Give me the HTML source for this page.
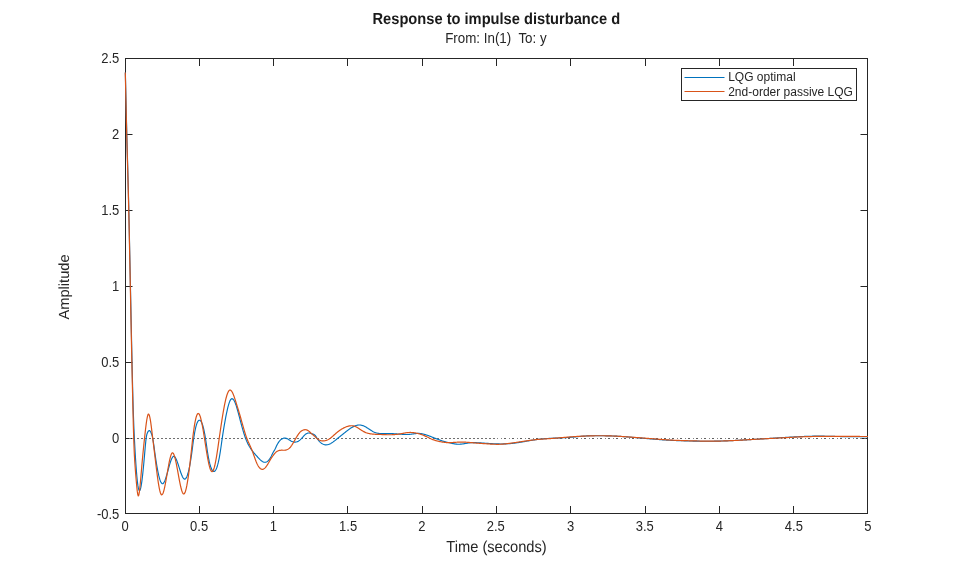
<!DOCTYPE html>
<html lang="en">
<head>
<meta charset="utf-8">
<title>Response to impulse disturbance d</title>
<style>
html,body{margin:0;padding:0;background:#fff;}
body{width:959px;height:577px;overflow:hidden;}
svg{display:block;}
text{font-family:"Liberation Sans",Arial,Helvetica,sans-serif;fill:#262626;}
.tk{font-size:13px;}
.lb{font-size:14.67px;text-rendering:geometricPrecision;}
.lg{font-size:12px;}
.tt{font-size:14.67px;font-weight:bold;fill:#1a1a1a;text-rendering:geometricPrecision;}
.st{font-size:13.36px;}
</style>
</head>
<body>
<svg width="959" height="577" viewBox="0 0 959 577">
<rect x="0" y="0" width="959" height="577" fill="#ffffff"/>
<g stroke="#262626" stroke-width="1" fill="none">
<rect x="125.5" y="58.5" width="742.0" height="455.0"/>
<line x1="199.5" y1="513.5" x2="199.5" y2="506.0"/><line x1="199.5" y1="58.5" x2="199.5" y2="66.0"/>
<line x1="273.5" y1="513.5" x2="273.5" y2="506.0"/><line x1="273.5" y1="58.5" x2="273.5" y2="66.0"/>
<line x1="347.5" y1="513.5" x2="347.5" y2="506.0"/><line x1="347.5" y1="58.5" x2="347.5" y2="66.0"/>
<line x1="422.5" y1="513.5" x2="422.5" y2="506.0"/><line x1="422.5" y1="58.5" x2="422.5" y2="66.0"/>
<line x1="496.5" y1="513.5" x2="496.5" y2="506.0"/><line x1="496.5" y1="58.5" x2="496.5" y2="66.0"/>
<line x1="570.5" y1="513.5" x2="570.5" y2="506.0"/><line x1="570.5" y1="58.5" x2="570.5" y2="66.0"/>
<line x1="645.5" y1="513.5" x2="645.5" y2="506.0"/><line x1="645.5" y1="58.5" x2="645.5" y2="66.0"/>
<line x1="719.5" y1="513.5" x2="719.5" y2="506.0"/><line x1="719.5" y1="58.5" x2="719.5" y2="66.0"/>
<line x1="793.5" y1="513.5" x2="793.5" y2="506.0"/><line x1="793.5" y1="58.5" x2="793.5" y2="66.0"/>
<line x1="125.5" y1="438.5" x2="132.5" y2="438.5"/><line x1="867.5" y1="438.5" x2="860.5" y2="438.5"/>
<line x1="125.5" y1="362.5" x2="132.5" y2="362.5"/><line x1="867.5" y1="362.5" x2="860.5" y2="362.5"/>
<line x1="125.5" y1="286.5" x2="132.5" y2="286.5"/><line x1="867.5" y1="286.5" x2="860.5" y2="286.5"/>
<line x1="125.5" y1="210.5" x2="132.5" y2="210.5"/><line x1="867.5" y1="210.5" x2="860.5" y2="210.5"/>
<line x1="125.5" y1="134.5" x2="132.5" y2="134.5"/><line x1="867.5" y1="134.5" x2="860.5" y2="134.5"/>
</g>
<line x1="129" y1="438.5" x2="495" y2="438.5" stroke="#707070" stroke-width="1" stroke-dasharray="2 2"/>
<line x1="497" y1="438.5" x2="498" y2="438.5" stroke="#808080" stroke-width="1"/>
<line x1="501" y1="438.5" x2="867" y2="438.5" stroke="#808080" stroke-width="1" stroke-dasharray="1 7"/>
<line x1="504" y1="438.5" x2="867" y2="438.5" stroke="#606060" stroke-width="1" stroke-dasharray="2 6"/>
<path d="M125.35 72.60 L125.85 94.61 L126.35 115.91 L126.85 135.77 L127.35 154.15 L127.85 172.10 L128.35 190.82 L128.85 211.40 L129.35 234.00 L129.85 257.85 L130.35 282.17 L130.85 306.47 L131.35 330.50 L131.85 354.05 L132.35 376.41 L132.85 396.58 L133.35 413.52 L133.85 426.76 L134.35 437.51 L134.85 447.06 L135.35 455.75 L135.85 463.53 L136.35 470.40 L136.85 476.30 L137.35 481.23 L137.85 485.16 L138.35 488.05 L138.85 489.88 L139.35 490.66 L139.85 490.45 L140.35 489.33 L140.85 487.39 L141.35 484.69 L141.85 481.32 L142.35 477.36 L142.85 472.89 L143.35 467.98 L143.85 462.71 L144.35 457.17 L144.85 451.42 L145.35 445.69 L145.85 440.59 L146.35 436.80 L146.85 434.41 L147.35 432.94 L147.85 431.90 L148.35 431.15 L148.85 430.70 L149.35 430.59 L149.85 430.84 L150.35 431.43 L150.85 432.31 L151.35 433.45 L151.85 434.85 L152.35 436.66 L152.85 439.03 L153.35 442.00 L153.85 445.42 L154.35 449.06 L154.85 452.72 L155.35 456.26 L155.85 459.63 L156.35 462.83 L156.85 465.85 L157.35 468.68 L157.85 471.30 L158.35 473.71 L158.85 475.88 L159.35 477.82 L159.85 479.50 L160.35 480.92 L160.85 482.07 L161.35 482.93 L161.85 483.49 L162.35 483.74 L162.85 483.67 L163.35 483.30 L163.85 482.65 L164.35 481.75 L164.85 480.64 L165.35 479.34 L165.85 477.87 L166.35 476.28 L166.85 474.59 L167.35 472.82 L167.85 471.00 L168.35 469.18 L168.85 467.36 L169.35 465.59 L169.85 463.89 L170.35 462.29 L170.85 460.82 L171.35 459.51 L171.85 458.38 L172.35 457.48 L172.85 456.81 L173.35 456.42 L173.85 456.33 L174.35 456.52 L174.85 456.96 L175.35 457.64 L175.85 458.52 L176.35 459.57 L176.85 460.78 L177.35 462.11 L177.85 463.54 L178.35 465.04 L178.85 466.59 L179.35 468.15 L179.85 469.71 L180.35 471.24 L180.85 472.70 L181.35 474.08 L181.85 475.35 L182.35 476.48 L182.85 477.44 L183.35 478.22 L183.85 478.77 L184.35 479.08 L184.85 479.13 L185.35 478.90 L185.85 478.41 L186.35 477.65 L186.85 476.63 L187.35 475.34 L187.85 473.80 L188.35 472.00 L188.85 469.94 L189.35 467.63 L189.85 465.07 L190.35 462.26 L190.85 459.21 L191.35 455.91 L191.85 452.37 L192.35 448.61 L192.85 444.76 L193.35 441.00 L193.85 437.48 L194.35 434.32 L194.85 431.51 L195.35 429.05 L195.85 426.91 L196.35 425.09 L196.85 423.58 L197.35 422.37 L197.85 421.43 L198.35 420.77 L198.85 420.36 L199.35 420.21 L199.85 420.28 L200.35 420.59 L200.85 421.13 L201.35 421.91 L201.85 422.94 L202.35 424.22 L202.85 425.76 L203.35 427.57 L203.85 429.64 L204.35 432.00 L204.85 434.63 L205.35 437.56 L205.85 440.78 L206.35 444.19 L206.85 447.66 L207.35 451.03 L207.85 454.17 L208.35 457.03 L208.85 459.61 L209.35 461.93 L209.85 463.98 L210.35 465.78 L210.85 467.32 L211.35 468.61 L211.85 469.65 L212.35 470.46 L212.85 471.04 L213.35 471.38 L213.85 471.51 L214.35 471.41 L214.85 471.09 L215.35 470.54 L215.85 469.75 L216.35 468.73 L216.85 467.46 L217.35 465.95 L217.85 464.18 L218.35 462.15 L218.85 459.86 L219.35 457.30 L219.85 454.47 L220.35 451.36 L220.85 448.00 L221.35 444.49 L221.85 440.94 L222.35 437.47 L222.85 434.14 L223.35 430.95 L223.85 427.88 L224.35 424.93 L224.85 422.08 L225.35 419.34 L225.85 416.69 L226.35 414.16 L226.85 411.77 L227.35 409.53 L227.85 407.45 L228.35 405.55 L228.85 403.86 L229.35 402.37 L229.85 401.12 L230.35 400.11 L230.85 399.36 L231.35 398.88 L231.85 398.67 L232.35 398.71 L232.85 398.99 L233.35 399.48 L233.85 400.17 L234.35 401.06 L234.85 402.12 L235.35 403.33 L235.85 404.69 L236.35 406.18 L236.85 407.78 L237.35 409.47 L237.85 411.25 L238.35 413.10 L238.85 414.98 L239.35 416.90 L239.85 418.82 L240.35 420.74 L240.85 422.63 L241.35 424.50 L241.85 426.34 L242.35 428.13 L242.85 429.88 L243.35 431.58 L243.85 433.22 L244.35 434.79 L244.85 436.29 L245.35 437.72 L245.85 439.06 L246.35 440.32 L246.85 441.50 L247.35 442.60 L247.85 443.64 L248.35 444.62 L248.85 445.55 L249.35 446.43 L249.85 447.26 L250.35 448.05 L250.85 448.81 L251.35 449.54 L251.85 450.25 L252.35 450.92 L252.85 451.57 L253.35 452.20 L253.85 452.81 L254.35 453.40 L254.85 453.98 L255.35 454.54 L255.85 455.10 L256.35 455.65 L256.85 456.20 L257.35 456.74 L257.85 457.28 L258.35 457.82 L258.85 458.35 L259.35 458.87 L259.85 459.37 L260.35 459.85 L260.85 460.30 L261.35 460.72 L261.85 461.10 L262.35 461.43 L262.85 461.72 L263.35 461.96 L263.85 462.14 L264.35 462.25 L264.85 462.30 L265.35 462.27 L265.85 462.18 L266.35 462.00 L266.85 461.76 L267.35 461.43 L267.85 461.03 L268.35 460.56 L268.85 460.01 L269.35 459.38 L269.85 458.68 L270.35 457.90 L270.85 457.04 L271.35 456.10 L271.85 455.08 L272.35 454.02 L272.85 452.99 L273.35 452.04 L273.85 451.18 L274.35 450.35 L274.85 449.48 L275.35 448.51 L275.85 447.45 L276.35 446.36 L276.85 445.30 L277.35 444.32 L277.85 443.44 L278.35 442.63 L278.85 441.90 L279.35 441.25 L279.85 440.66 L280.35 440.14 L280.85 439.68 L281.35 439.27 L281.85 438.93 L282.35 438.65 L282.85 438.43 L283.35 438.26 L283.85 438.15 L284.35 438.10 L284.85 438.11 L285.35 438.16 L285.85 438.26 L286.35 438.41 L286.85 438.60 L287.35 438.83 L287.85 439.09 L288.35 439.37 L288.85 439.68 L289.35 439.99 L289.85 440.30 L290.35 440.61 L290.85 440.89 L291.35 441.15 L291.85 441.38 L292.35 441.58 L292.85 441.75 L293.35 441.89 L293.85 442.00 L294.35 442.07 L294.85 442.10 L295.35 442.09 L295.85 442.04 L296.35 441.94 L296.85 441.81 L297.35 441.63 L297.85 441.41 L298.35 441.14 L298.85 440.83 L299.35 440.48 L299.85 440.09 L300.35 439.66 L300.85 439.19 L301.35 438.69 L301.85 438.15 L302.35 437.59 L302.85 437.02 L303.35 436.44 L303.85 435.88 L304.35 435.34 L304.85 434.84 L305.35 434.40 L305.85 434.01 L306.35 433.69 L306.85 433.43 L307.35 433.23 L307.85 433.09 L308.35 433.01 L308.85 433.00 L309.35 433.05 L309.85 433.15 L310.35 433.28 L310.85 433.43 L311.35 433.59 L311.85 433.74 L312.35 433.87 L312.85 434.01 L313.35 434.17 L313.85 434.40 L314.35 434.71 L314.85 435.14 L315.35 435.71 L315.85 436.40 L316.35 437.17 L316.85 437.96 L317.35 438.73 L317.85 439.45 L318.35 440.12 L318.85 440.75 L319.35 441.32 L319.85 441.85 L320.35 442.34 L320.85 442.77 L321.35 443.17 L321.85 443.52 L322.35 443.82 L322.85 444.09 L323.35 444.31 L323.85 444.49 L324.35 444.64 L324.85 444.74 L325.35 444.81 L325.85 444.84 L326.35 444.84 L326.85 444.80 L327.35 444.73 L327.85 444.62 L328.35 444.49 L328.85 444.32 L329.35 444.13 L329.85 443.91 L330.35 443.66 L330.85 443.39 L331.35 443.10 L331.85 442.79 L332.35 442.47 L332.85 442.13 L333.35 441.77 L333.85 441.40 L334.35 441.02 L334.85 440.64 L335.35 440.24 L335.85 439.84 L336.35 439.44 L336.85 439.03 L337.35 438.62 L337.85 438.22 L338.35 437.81 L338.85 437.41 L339.35 437.01 L339.85 436.61 L340.35 436.21 L340.85 435.81 L341.35 435.41 L341.85 435.02 L342.35 434.62 L342.85 434.22 L343.35 433.82 L343.85 433.42 L344.35 433.02 L344.85 432.62 L345.35 432.22 L345.85 431.81 L346.35 431.41 L346.85 431.01 L347.35 430.61 L347.85 430.22 L348.35 429.84 L348.85 429.46 L349.35 429.09 L349.85 428.73 L350.35 428.39 L350.85 428.06 L351.35 427.74 L351.85 427.44 L352.35 427.15 L352.85 426.88 L353.35 426.63 L353.85 426.39 L354.35 426.16 L354.85 425.96 L355.35 425.77 L355.85 425.60 L356.35 425.44 L356.85 425.31 L357.35 425.19 L357.85 425.10 L358.35 425.04 L358.85 424.99 L359.35 424.98 L359.85 424.99 L360.35 425.03 L360.85 425.10 L361.35 425.20 L361.85 425.32 L362.35 425.47 L362.85 425.64 L363.35 425.83 L363.85 426.04 L364.35 426.27 L364.85 426.52 L365.35 426.79 L365.85 427.07 L366.35 427.36 L366.85 427.66 L367.35 427.97 L367.85 428.29 L368.35 428.61 L368.85 428.94 L369.35 429.27 L369.85 429.60 L370.35 429.93 L370.85 430.25 L371.35 430.57 L371.85 430.88 L372.35 431.18 L372.85 431.47 L373.35 431.74 L373.85 431.99 L374.35 432.23 L374.85 432.44 L375.35 432.63 L375.85 432.79 L376.35 432.94 L376.85 433.06 L377.35 433.17 L377.85 433.26 L378.35 433.33 L378.85 433.39 L379.35 433.45 L379.85 433.49 L380.35 433.52 L380.85 433.55 L381.35 433.58 L381.85 433.60 L382.35 433.61 L382.85 433.62 L383.35 433.63 L383.85 433.63 L384.35 433.63 L384.85 433.63 L385.35 433.63 L385.85 433.62 L386.35 433.62 L386.85 433.61 L387.35 433.60 L387.85 433.60 L388.35 433.59 L388.85 433.59 L389.35 433.58 L389.85 433.58 L390.35 433.59 L390.85 433.59 L391.35 433.60 L391.85 433.62 L392.35 433.63 L392.85 433.65 L393.35 433.68 L393.85 433.70 L394.35 433.73 L394.85 433.77 L395.35 433.80 L395.85 433.84 L396.35 433.87 L396.85 433.91 L397.35 433.95 L397.85 433.99 L398.35 434.03 L398.85 434.07 L399.35 434.11 L399.85 434.15 L400.35 434.19 L400.85 434.23 L401.35 434.27 L401.85 434.30 L402.35 434.34 L402.85 434.37 L403.35 434.40 L403.85 434.42 L404.35 434.45 L404.85 434.47 L405.35 434.48 L405.85 434.49 L406.35 434.49 L406.85 434.49 L407.35 434.49 L407.85 434.47 L408.35 434.45 L408.85 434.43 L409.35 434.39 L409.85 434.35 L410.35 434.30 L410.85 434.24 L411.35 434.18 L411.85 434.11 L412.35 434.04 L412.85 433.97 L413.35 433.89 L413.85 433.82 L414.35 433.75 L414.85 433.68 L415.35 433.62 L415.85 433.56 L416.35 433.51 L416.85 433.47 L417.35 433.44 L417.85 433.42 L418.35 433.41 L418.85 433.42 L419.35 433.44 L419.85 433.47 L420.35 433.52 L420.85 433.59 L421.35 433.66 L421.85 433.75 L422.35 433.85 L422.85 433.95 L423.35 434.07 L423.85 434.20 L424.35 434.33 L424.85 434.48 L425.35 434.63 L425.85 434.78 L426.35 434.95 L426.85 435.12 L427.35 435.29 L427.85 435.46 L428.35 435.64 L428.85 435.83 L429.35 436.01 L429.85 436.20 L430.35 436.39 L430.85 436.59 L431.35 436.78 L431.85 436.98 L432.35 437.17 L432.85 437.37 L433.35 437.57 L433.85 437.77 L434.35 437.97 L434.85 438.17 L435.35 438.36 L435.85 438.56 L436.35 438.76 L436.85 438.95 L437.35 439.14 L437.85 439.33 L438.35 439.52 L438.85 439.70 L439.35 439.89 L439.85 440.07 L440.35 440.24 L440.85 440.42 L441.35 440.59 L441.85 440.75 L442.35 440.92 L442.85 441.08 L443.35 441.23 L443.85 441.38 L444.35 441.53 L444.85 441.67 L445.35 441.80 L445.85 441.94 L446.35 442.07 L446.85 442.20 L447.35 442.32 L447.85 442.44 L448.35 442.56 L448.85 442.68 L449.35 442.80 L449.85 442.92 L450.35 443.03 L450.85 443.15 L451.35 443.26 L451.85 443.37 L452.35 443.47 L452.85 443.58 L453.35 443.68 L453.85 443.77 L454.35 443.85 L454.85 443.93 L455.35 444.01 L455.85 444.07 L456.35 444.13 L456.85 444.17 L457.35 444.21 L457.85 444.23 L458.35 444.25 L458.85 444.25 L459.35 444.24 L459.85 444.21 L460.35 444.18 L460.85 444.14 L461.35 444.09 L461.85 444.03 L462.35 443.96 L462.85 443.89 L463.35 443.81 L463.85 443.73 L464.35 443.65 L464.85 443.56 L465.35 443.47 L465.85 443.39 L466.35 443.31 L466.85 443.22 L467.35 443.14 L467.85 443.07 L468.35 443.00 L468.85 442.94 L469.35 442.88 L469.85 442.83 L470.35 442.79 L470.85 442.75 L471.35 442.72 L471.85 442.70 L472.35 442.68 L472.85 442.66 L473.35 442.65 L473.85 442.65 L474.35 442.65 L474.85 442.65 L475.35 442.66 L475.85 442.67 L476.35 442.69 L476.85 442.70 L477.35 442.72 L477.85 442.75 L478.35 442.77 L478.85 442.80 L479.35 442.83 L479.85 442.86 L480.35 442.89 L480.85 442.92 L481.35 442.96 L481.85 442.99 L482.35 443.02 L482.85 443.06 L483.35 443.09 L483.85 443.13 L484.35 443.16 L484.85 443.20 L485.35 443.23 L485.85 443.27 L486.35 443.30 L486.85 443.34 L487.35 443.37 L487.85 443.41 L488.35 443.44 L488.85 443.48 L489.35 443.51 L489.85 443.54 L490.35 443.57 L490.85 443.60 L491.35 443.63 L491.85 443.66 L492.35 443.69 L492.85 443.72 L493.35 443.74 L493.85 443.77 L494.35 443.79 L494.85 443.81 L495.35 443.83 L495.85 443.85 L496.35 443.87 L496.85 443.89 L497.35 443.90 L497.85 443.91 L498.35 443.93 L498.85 443.94 L499.35 443.94 L499.85 443.95 L500.35 443.95 L500.85 443.95 L501.35 443.95 L501.85 443.95 L502.35 443.95 L502.85 443.94 L503.35 443.93 L503.85 443.92 L504.35 443.90 L504.85 443.89 L505.35 443.87 L505.85 443.85 L506.35 443.83 L506.85 443.80 L507.35 443.77 L507.85 443.74 L508.35 443.71 L508.85 443.68 L509.35 443.64 L509.85 443.60 L510.35 443.56 L510.85 443.51 L511.35 443.47 L511.85 443.42 L512.35 443.37 L512.85 443.31 L513.35 443.25 L513.85 443.19 L514.35 443.13 L514.85 443.07 L515.35 443.00 L515.85 442.93 L516.35 442.86 L516.85 442.79 L517.35 442.72 L517.85 442.64 L518.35 442.57 L518.85 442.49 L519.35 442.41 L519.85 442.33 L520.35 442.25 L520.85 442.16 L521.35 442.08 L521.85 441.99 L522.35 441.91 L522.85 441.82 L523.35 441.74 L523.85 441.65 L524.35 441.56 L524.85 441.48 L525.35 441.39 L525.85 441.30 L526.35 441.21 L526.85 441.13 L527.35 441.04 L527.85 440.95 L528.35 440.87 L528.85 440.78 L529.35 440.70 L529.85 440.61 L530.35 440.53 L530.85 440.44 L531.35 440.36 L531.85 440.28 L532.35 440.20 L532.85 440.12 L533.35 440.04 L533.85 439.97 L534.35 439.89 L534.85 439.82 L535.35 439.74 L535.85 439.67 L536.35 439.60 L536.85 439.54 L537.35 439.47 L537.85 439.41 L538.35 439.34 L538.85 439.28 L539.35 439.23 L539.85 439.17 L540.35 439.11 L540.85 439.06 L541.35 439.01 L541.85 438.96 L542.35 438.91 L542.85 438.87 L543.35 438.82 L543.85 438.78 L544.35 438.74 L544.85 438.69 L545.35 438.66 L545.85 438.62 L546.35 438.58 L546.85 438.55 L547.35 438.51 L547.85 438.48 L548.35 438.45 L548.85 438.42 L549.35 438.39 L549.85 438.36 L550.35 438.33 L550.85 438.30 L551.35 438.28 L551.85 438.25 L552.35 438.23 L552.85 438.21 L553.35 438.18 L553.85 438.16 L554.35 438.14 L554.85 438.12 L555.35 438.10 L555.85 438.08 L556.35 438.06 L556.85 438.04 L557.35 438.02 L557.85 438.00 L558.35 437.98 L558.85 437.96 L559.35 437.94 L559.85 437.92 L560.35 437.90 L560.85 437.87 L561.35 437.85 L561.85 437.83 L562.35 437.81 L562.85 437.78 L563.35 437.76 L563.85 437.74 L564.35 437.71 L564.85 437.69 L565.35 437.66 L565.85 437.63 L566.35 437.60 L566.85 437.57 L567.35 437.54 L567.85 437.51 L568.35 437.47 L568.85 437.44 L569.35 437.40 L569.85 437.36 L570.35 437.32 L570.85 437.28 L571.35 437.24 L571.85 437.19 L572.35 437.15 L572.85 437.10 L573.35 437.06 L573.85 437.01 L574.35 436.96 L574.85 436.91 L575.35 436.86 L575.85 436.81 L576.35 436.76 L576.85 436.71 L577.35 436.66 L577.85 436.61 L578.35 436.57 L578.85 436.52 L579.35 436.47 L579.85 436.42 L580.35 436.38 L580.85 436.33 L581.35 436.29 L581.85 436.25 L582.35 436.21 L582.85 436.17 L583.35 436.13 L583.85 436.09 L584.35 436.06 L584.85 436.03 L585.35 436.00 L585.85 435.97 L586.35 435.94 L586.85 435.92 L587.35 435.89 L587.85 435.87 L588.35 435.85 L588.85 435.83 L589.35 435.81 L589.85 435.80 L590.35 435.78 L590.85 435.77 L591.35 435.76 L591.85 435.75 L592.35 435.74 L592.85 435.73 L593.35 435.72 L593.85 435.72 L594.35 435.71 L594.85 435.71 L595.35 435.71 L595.85 435.70 L596.35 435.70 L596.85 435.70 L597.35 435.70 L597.85 435.71 L598.35 435.71 L598.85 435.71 L599.35 435.71 L599.85 435.72 L600.35 435.72 L600.85 435.73 L601.35 435.73 L601.85 435.74 L602.35 435.75 L602.85 435.75 L603.35 435.76 L603.85 435.77 L604.35 435.78 L604.85 435.79 L605.35 435.80 L605.85 435.81 L606.35 435.82 L606.85 435.83 L607.35 435.84 L607.85 435.85 L608.35 435.86 L608.85 435.88 L609.35 435.89 L609.85 435.90 L610.35 435.92 L610.85 435.94 L611.35 435.95 L611.85 435.97 L612.35 435.99 L612.85 436.01 L613.35 436.03 L613.85 436.05 L614.35 436.07 L614.85 436.09 L615.35 436.12 L615.85 436.14 L616.35 436.17 L616.85 436.19 L617.35 436.22 L617.85 436.25 L618.35 436.28 L618.85 436.31 L619.35 436.34 L619.85 436.37 L620.35 436.40 L620.85 436.43 L621.35 436.47 L621.85 436.50 L622.35 436.54 L622.85 436.57 L623.35 436.61 L623.85 436.65 L624.35 436.68 L624.85 436.72 L625.35 436.76 L625.85 436.80 L626.35 436.84 L626.85 436.88 L627.35 436.92 L627.85 436.96 L628.35 437.00 L628.85 437.04 L629.35 437.08 L629.85 437.12 L630.35 437.16 L630.85 437.20 L631.35 437.25 L631.85 437.29 L632.35 437.33 L632.85 437.37 L633.35 437.42 L633.85 437.46 L634.35 437.50 L634.85 437.54 L635.35 437.59 L635.85 437.63 L636.35 437.67 L636.85 437.72 L637.35 437.76 L637.85 437.80 L638.35 437.85 L638.85 437.89 L639.35 437.93 L639.85 437.98 L640.35 438.02 L640.85 438.06 L641.35 438.11 L641.85 438.15 L642.35 438.19 L642.85 438.23 L643.35 438.28 L643.85 438.32 L644.35 438.36 L644.85 438.41 L645.35 438.45 L645.85 438.49 L646.35 438.53 L646.85 438.58 L647.35 438.62 L647.85 438.66 L648.35 438.70 L648.85 438.75 L649.35 438.79 L649.85 438.83 L650.35 438.87 L650.85 438.91 L651.35 438.96 L651.85 439.00 L652.35 439.04 L652.85 439.08 L653.35 439.12 L653.85 439.16 L654.35 439.20 L654.85 439.24 L655.35 439.28 L655.85 439.32 L656.35 439.36 L656.85 439.40 L657.35 439.44 L657.85 439.48 L658.35 439.52 L658.85 439.55 L659.35 439.59 L659.85 439.63 L660.35 439.67 L660.85 439.70 L661.35 439.74 L661.85 439.77 L662.35 439.81 L662.85 439.84 L663.35 439.88 L663.85 439.91 L664.35 439.95 L664.85 439.98 L665.35 440.01 L665.85 440.04 L666.35 440.07 L666.85 440.11 L667.35 440.14 L667.85 440.17 L668.35 440.19 L668.85 440.22 L669.35 440.25 L669.85 440.28 L670.35 440.30 L670.85 440.33 L671.35 440.35 L671.85 440.38 L672.35 440.40 L672.85 440.43 L673.35 440.45 L673.85 440.47 L674.35 440.49 L674.85 440.51 L675.35 440.53 L675.85 440.55 L676.35 440.57 L676.85 440.59 L677.35 440.61 L677.85 440.63 L678.35 440.64 L678.85 440.66 L679.35 440.68 L679.85 440.69 L680.35 440.71 L680.85 440.73 L681.35 440.74 L681.85 440.76 L682.35 440.77 L682.85 440.79 L683.35 440.80 L683.85 440.82 L684.35 440.83 L684.85 440.85 L685.35 440.86 L685.85 440.87 L686.35 440.89 L686.85 440.90 L687.35 440.92 L687.85 440.93 L688.35 440.95 L688.85 440.96 L689.35 440.97 L689.85 440.99 L690.35 441.00 L690.85 441.01 L691.35 441.03 L691.85 441.04 L692.35 441.05 L692.85 441.06 L693.35 441.07 L693.85 441.09 L694.35 441.10 L694.85 441.11 L695.35 441.12 L695.85 441.13 L696.35 441.14 L696.85 441.15 L697.35 441.16 L697.85 441.17 L698.35 441.18 L698.85 441.19 L699.35 441.19 L699.85 441.20 L700.35 441.21 L700.85 441.21 L701.35 441.22 L701.85 441.23 L702.35 441.23 L702.85 441.24 L703.35 441.24 L703.85 441.24 L704.35 441.25 L704.85 441.25 L705.35 441.25 L705.85 441.25 L706.35 441.25 L706.85 441.25 L707.35 441.25 L707.85 441.25 L708.35 441.25 L708.85 441.25 L709.35 441.25 L709.85 441.24 L710.35 441.24 L710.85 441.24 L711.35 441.23 L711.85 441.23 L712.35 441.22 L712.85 441.21 L713.35 441.21 L713.85 441.20 L714.35 441.19 L714.85 441.18 L715.35 441.18 L715.85 441.17 L716.35 441.16 L716.85 441.15 L717.35 441.13 L717.85 441.12 L718.35 441.11 L718.85 441.10 L719.35 441.09 L719.85 441.07 L720.35 441.06 L720.85 441.04 L721.35 441.03 L721.85 441.01 L722.35 441.00 L722.85 440.98 L723.35 440.96 L723.85 440.95 L724.35 440.93 L724.85 440.91 L725.35 440.89 L725.85 440.87 L726.35 440.85 L726.85 440.83 L727.35 440.81 L727.85 440.79 L728.35 440.77 L728.85 440.75 L729.35 440.73 L729.85 440.70 L730.35 440.68 L730.85 440.66 L731.35 440.63 L731.85 440.61 L732.35 440.59 L732.85 440.56 L733.35 440.54 L733.85 440.51 L734.35 440.49 L734.85 440.46 L735.35 440.44 L735.85 440.41 L736.35 440.38 L736.85 440.36 L737.35 440.33 L737.85 440.30 L738.35 440.28 L738.85 440.25 L739.35 440.22 L739.85 440.20 L740.35 440.17 L740.85 440.14 L741.35 440.11 L741.85 440.09 L742.35 440.06 L742.85 440.03 L743.35 440.00 L743.85 439.97 L744.35 439.95 L744.85 439.92 L745.35 439.89 L745.85 439.86 L746.35 439.83 L746.85 439.81 L747.35 439.78 L747.85 439.75 L748.35 439.72 L748.85 439.69 L749.35 439.66 L749.85 439.63 L750.35 439.61 L750.85 439.58 L751.35 439.55 L751.85 439.52 L752.35 439.49 L752.85 439.46 L753.35 439.43 L753.85 439.40 L754.35 439.37 L754.85 439.34 L755.35 439.31 L755.85 439.28 L756.35 439.25 L756.85 439.22 L757.35 439.19 L757.85 439.16 L758.35 439.13 L758.85 439.10 L759.35 439.07 L759.85 439.04 L760.35 439.01 L760.85 438.97 L761.35 438.94 L761.85 438.91 L762.35 438.88 L762.85 438.85 L763.35 438.82 L763.85 438.79 L764.35 438.75 L764.85 438.72 L765.35 438.69 L765.85 438.66 L766.35 438.63 L766.85 438.59 L767.35 438.56 L767.85 438.53 L768.35 438.50 L768.85 438.46 L769.35 438.43 L769.85 438.40 L770.35 438.37 L770.85 438.33 L771.35 438.30 L771.85 438.27 L772.35 438.24 L772.85 438.20 L773.35 438.17 L773.85 438.14 L774.35 438.11 L774.85 438.08 L775.35 438.04 L775.85 438.01 L776.35 437.98 L776.85 437.95 L777.35 437.92 L777.85 437.88 L778.35 437.85 L778.85 437.82 L779.35 437.79 L779.85 437.76 L780.35 437.73 L780.85 437.70 L781.35 437.67 L781.85 437.64 L782.35 437.61 L782.85 437.58 L783.35 437.55 L783.85 437.52 L784.35 437.49 L784.85 437.46 L785.35 437.43 L785.85 437.40 L786.35 437.37 L786.85 437.34 L787.35 437.31 L787.85 437.28 L788.35 437.25 L788.85 437.22 L789.35 437.20 L789.85 437.17 L790.35 437.14 L790.85 437.11 L791.35 437.08 L791.85 437.06 L792.35 437.03 L792.85 437.00 L793.35 436.98 L793.85 436.95 L794.35 436.92 L794.85 436.90 L795.35 436.87 L795.85 436.85 L796.35 436.82 L796.85 436.79 L797.35 436.77 L797.85 436.74 L798.35 436.72 L798.85 436.70 L799.35 436.67 L799.85 436.65 L800.35 436.62 L800.85 436.60 L801.35 436.58 L801.85 436.55 L802.35 436.53 L802.85 436.51 L803.35 436.49 L803.85 436.47 L804.35 436.44 L804.85 436.42 L805.35 436.40 L805.85 436.38 L806.35 436.37 L806.85 436.35 L807.35 436.33 L807.85 436.31 L808.35 436.30 L808.85 436.28 L809.35 436.27 L809.85 436.25 L810.35 436.24 L810.85 436.22 L811.35 436.21 L811.85 436.20 L812.35 436.19 L812.85 436.18 L813.35 436.17 L813.85 436.16 L814.35 436.16 L814.85 436.15 L815.35 436.15 L815.85 436.14 L816.35 436.14 L816.85 436.14 L817.35 436.14 L817.85 436.14 L818.35 436.14 L818.85 436.14 L819.35 436.14 L819.85 436.14 L820.35 436.14 L820.85 436.15 L821.35 436.15 L821.85 436.16 L822.35 436.16 L822.85 436.17 L823.35 436.18 L823.85 436.19 L824.35 436.19 L824.85 436.20 L825.35 436.21 L825.85 436.22 L826.35 436.23 L826.85 436.24 L827.35 436.25 L827.85 436.26 L828.35 436.27 L828.85 436.28 L829.35 436.30 L829.85 436.31 L830.35 436.32 L830.85 436.33 L831.35 436.35 L831.85 436.36 L832.35 436.37 L832.85 436.38 L833.35 436.40 L833.85 436.41 L834.35 436.42 L834.85 436.43 L835.35 436.45 L835.85 436.46 L836.35 436.47 L836.85 436.48 L837.35 436.49 L837.85 436.51 L838.35 436.52 L838.85 436.53 L839.35 436.54 L839.85 436.55 L840.35 436.56 L840.85 436.57 L841.35 436.58 L841.85 436.59 L842.35 436.60 L842.85 436.61 L843.35 436.61 L843.85 436.62 L844.35 436.63 L844.85 436.63 L845.35 436.64 L845.85 436.64 L846.35 436.65 L846.85 436.65 L847.35 436.66 L847.85 436.66 L848.35 436.67 L848.85 436.67 L849.35 436.67 L849.85 436.67 L850.35 436.68 L850.85 436.68 L851.35 436.68 L851.85 436.68 L852.35 436.68 L852.85 436.68 L853.35 436.68 L853.85 436.68 L854.35 436.68 L854.85 436.68 L855.35 436.68 L855.85 436.68 L856.35 436.68 L856.85 436.67 L857.35 436.67 L857.85 436.67 L858.35 436.67 L858.85 436.67 L859.35 436.66 L859.85 436.66 L860.35 436.66 L860.85 436.65 L861.35 436.65 L861.85 436.65 L862.35 436.64 L862.85 436.64 L863.35 436.64 L863.85 436.63 L864.35 436.63 L864.85 436.63 L865.35 436.62 L865.85 436.62 L866.35 436.61 L866.85 436.61 L867.35 436.61 L867.85 436.60 L868.00 436.60" fill="none" stroke="#0072BD" stroke-width="1.15" stroke-linejoin="round"/>
<path d="M125.30 72.60 L125.80 95.62 L126.30 117.65 L126.80 137.76 L127.30 155.97 L127.80 173.61 L128.30 192.07 L128.80 212.68 L129.30 235.58 L129.80 259.99 L130.30 285.13 L130.80 310.36 L131.30 335.14 L131.80 359.01 L132.30 381.81 L132.80 403.58 L133.30 424.19 L133.80 441.54 L134.30 453.62 L134.80 462.11 L135.30 469.14 L135.80 475.61 L136.30 481.53 L136.80 486.89 L137.30 491.40 L137.80 494.58 L138.30 495.98 L138.80 495.19 L139.30 492.45 L139.80 488.29 L140.30 483.22 L140.80 477.68 L141.30 471.93 L141.80 466.14 L142.30 460.51 L142.80 455.11 L143.30 449.98 L143.80 445.09 L144.30 440.36 L144.80 435.73 L145.30 431.22 L145.80 426.96 L146.30 423.09 L146.80 419.75 L147.30 417.05 L147.80 415.13 L148.30 414.12 L148.80 414.14 L149.30 415.18 L149.80 417.08 L150.30 419.71 L150.80 422.93 L151.30 426.61 L151.80 430.59 L152.30 434.74 L152.80 438.92 L153.30 443.02 L153.80 447.09 L154.30 451.18 L154.80 455.32 L155.30 459.49 L155.80 463.66 L156.30 467.76 L156.80 471.76 L157.30 475.59 L157.80 479.22 L158.30 482.59 L158.80 485.65 L159.30 488.36 L159.80 490.66 L160.30 492.51 L160.80 493.86 L161.30 494.65 L161.80 494.87 L162.30 494.54 L162.80 493.73 L163.30 492.48 L163.80 490.84 L164.30 488.86 L164.80 486.60 L165.30 484.10 L165.80 481.41 L166.30 478.60 L166.80 475.70 L167.30 472.76 L167.80 469.85 L168.30 467.01 L168.80 464.28 L169.30 461.73 L169.80 459.40 L170.30 457.34 L170.80 455.60 L171.30 454.24 L171.80 453.31 L172.30 452.85 L172.80 452.89 L173.30 453.39 L173.80 454.32 L174.30 455.62 L174.80 457.25 L175.30 459.18 L175.80 461.35 L176.30 463.73 L176.80 466.26 L177.30 468.91 L177.80 471.63 L178.30 474.38 L178.80 477.11 L179.30 479.78 L179.80 482.35 L180.30 484.78 L180.80 487.01 L181.30 489.02 L181.80 490.74 L182.30 492.14 L182.80 493.18 L183.30 493.82 L183.80 494.00 L184.30 493.70 L184.80 492.93 L185.30 491.73 L185.80 490.11 L186.30 488.09 L186.80 485.71 L187.30 482.97 L187.80 479.92 L188.30 476.57 L188.80 472.95 L189.30 469.07 L189.80 464.97 L190.30 460.66 L190.80 456.17 L191.30 451.53 L191.80 446.79 L192.30 442.10 L192.80 437.63 L193.30 433.51 L193.80 429.76 L194.30 426.38 L194.80 423.38 L195.30 420.76 L195.80 418.53 L196.30 416.70 L196.80 415.27 L197.30 414.25 L197.80 413.64 L198.30 413.45 L198.80 413.68 L199.30 414.34 L199.80 415.38 L200.30 416.79 L200.80 418.52 L201.30 420.56 L201.80 422.85 L202.30 425.39 L202.80 428.12 L203.30 431.02 L203.80 434.07 L204.30 437.22 L204.80 440.44 L205.30 443.70 L205.80 446.95 L206.30 450.14 L206.80 453.22 L207.30 456.15 L207.80 458.91 L208.30 461.47 L208.80 463.81 L209.30 465.89 L209.80 467.70 L210.30 469.20 L210.80 470.37 L211.30 471.18 L211.80 471.60 L212.30 471.62 L212.80 471.19 L213.30 470.34 L213.80 469.09 L214.30 467.47 L214.80 465.51 L215.30 463.24 L215.80 460.69 L216.30 457.89 L216.80 454.88 L217.30 451.67 L217.80 448.32 L218.30 444.85 L218.80 441.33 L219.30 437.79 L219.80 434.29 L220.30 430.83 L220.80 427.42 L221.30 424.08 L221.80 420.83 L222.30 417.67 L222.80 414.61 L223.30 411.68 L223.80 408.87 L224.30 406.21 L224.80 403.71 L225.30 401.38 L225.80 399.22 L226.30 397.27 L226.80 395.52 L227.30 393.99 L227.80 392.69 L228.30 391.64 L228.80 390.84 L229.30 390.32 L229.80 390.07 L230.30 390.07 L230.80 390.32 L231.30 390.78 L231.80 391.45 L232.30 392.29 L232.80 393.30 L233.30 394.46 L233.80 395.73 L234.30 397.12 L234.80 398.59 L235.30 400.12 L235.80 401.71 L236.30 403.32 L236.80 404.95 L237.30 406.57 L237.80 408.18 L238.30 409.79 L238.80 411.42 L239.30 413.08 L239.80 414.77 L240.30 416.50 L240.80 418.26 L241.30 420.04 L241.80 421.82 L242.30 423.61 L242.80 425.39 L243.30 427.15 L243.80 428.89 L244.30 430.59 L244.80 432.24 L245.30 433.85 L245.80 435.38 L246.30 436.85 L246.80 438.23 L247.30 439.53 L247.80 440.75 L248.30 441.90 L248.80 443.01 L249.30 444.10 L249.80 445.18 L250.30 446.26 L250.80 447.38 L251.30 448.53 L251.80 449.75 L252.30 451.04 L252.80 452.40 L253.30 453.80 L253.80 455.23 L254.30 456.66 L254.80 458.07 L255.30 459.45 L255.80 460.77 L256.30 462.02 L256.80 463.17 L257.30 464.23 L257.80 465.19 L258.30 466.05 L258.80 466.82 L259.30 467.48 L259.80 468.04 L260.30 468.51 L260.80 468.87 L261.30 469.13 L261.80 469.28 L262.30 469.33 L262.80 469.28 L263.30 469.12 L263.80 468.87 L264.30 468.53 L264.80 468.10 L265.30 467.59 L265.80 467.01 L266.30 466.37 L266.80 465.67 L267.30 464.92 L267.80 464.13 L268.30 463.29 L268.80 462.43 L269.30 461.54 L269.80 460.65 L270.30 459.76 L270.80 458.91 L271.30 458.12 L271.80 457.39 L272.30 456.68 L272.80 456.00 L273.30 455.33 L273.80 454.66 L274.30 454.00 L274.80 453.38 L275.30 452.81 L275.80 452.31 L276.30 451.88 L276.80 451.51 L277.30 451.21 L277.80 450.96 L278.30 450.75 L278.80 450.59 L279.30 450.45 L279.80 450.35 L280.30 450.28 L280.80 450.23 L281.30 450.21 L281.80 450.20 L282.30 450.21 L282.80 450.23 L283.30 450.24 L283.80 450.26 L284.30 450.25 L284.80 450.22 L285.30 450.16 L285.80 450.06 L286.30 449.92 L286.80 449.75 L287.30 449.53 L287.80 449.27 L288.30 448.98 L288.80 448.63 L289.30 448.24 L289.80 447.78 L290.30 447.25 L290.80 446.65 L291.30 445.97 L291.80 445.23 L292.30 444.44 L292.80 443.61 L293.30 442.76 L293.80 441.89 L294.30 441.02 L294.80 440.14 L295.30 439.27 L295.80 438.41 L296.30 437.56 L296.80 436.73 L297.30 435.93 L297.80 435.15 L298.30 434.41 L298.80 433.70 L299.30 433.04 L299.80 432.43 L300.30 431.89 L300.80 431.42 L301.30 431.03 L301.80 430.70 L302.30 430.43 L302.80 430.21 L303.30 430.03 L303.80 429.89 L304.30 429.78 L304.80 429.72 L305.30 429.70 L305.80 429.73 L306.30 429.82 L306.80 429.95 L307.30 430.15 L307.80 430.41 L308.30 430.74 L308.80 431.12 L309.30 431.56 L309.80 432.02 L310.30 432.50 L310.80 432.98 L311.30 433.45 L311.80 433.89 L312.30 434.31 L312.80 434.73 L313.30 435.14 L313.80 435.55 L314.30 435.97 L314.80 436.42 L315.30 436.88 L315.80 437.37 L316.30 437.85 L316.80 438.31 L317.30 438.74 L317.80 439.12 L318.30 439.46 L318.80 439.77 L319.30 440.04 L319.80 440.27 L320.30 440.46 L320.80 440.62 L321.30 440.74 L321.80 440.83 L322.30 440.89 L322.80 440.92 L323.30 440.92 L323.80 440.90 L324.30 440.84 L324.80 440.76 L325.30 440.65 L325.80 440.51 L326.30 440.35 L326.80 440.17 L327.30 439.96 L327.80 439.72 L328.30 439.46 L328.80 439.18 L329.30 438.87 L329.80 438.54 L330.30 438.19 L330.80 437.81 L331.30 437.42 L331.80 437.01 L332.30 436.59 L332.80 436.16 L333.30 435.72 L333.80 435.27 L334.30 434.82 L334.80 434.38 L335.30 433.93 L335.80 433.49 L336.30 433.06 L336.80 432.63 L337.30 432.22 L337.80 431.82 L338.30 431.43 L338.80 431.05 L339.30 430.68 L339.80 430.32 L340.30 429.98 L340.80 429.64 L341.30 429.32 L341.80 429.01 L342.30 428.71 L342.80 428.43 L343.30 428.16 L343.80 427.90 L344.30 427.66 L344.80 427.43 L345.30 427.21 L345.80 427.00 L346.30 426.81 L346.80 426.63 L347.30 426.47 L347.80 426.32 L348.30 426.18 L348.80 426.06 L349.30 425.96 L349.80 425.88 L350.30 425.81 L350.80 425.77 L351.30 425.75 L351.80 425.75 L352.30 425.77 L352.80 425.82 L353.30 425.90 L353.80 426.00 L354.30 426.13 L354.80 426.29 L355.30 426.47 L355.80 426.69 L356.30 426.94 L356.80 427.21 L357.30 427.50 L357.80 427.81 L358.30 428.14 L358.80 428.47 L359.30 428.81 L359.80 429.16 L360.30 429.50 L360.80 429.83 L361.30 430.16 L361.80 430.48 L362.30 430.79 L362.80 431.09 L363.30 431.37 L363.80 431.64 L364.30 431.90 L364.80 432.15 L365.30 432.37 L365.80 432.58 L366.30 432.77 L366.80 432.95 L367.30 433.11 L367.80 433.26 L368.30 433.39 L368.80 433.51 L369.30 433.62 L369.80 433.71 L370.30 433.80 L370.80 433.88 L371.30 433.95 L371.80 434.01 L372.30 434.07 L372.80 434.11 L373.30 434.16 L373.80 434.19 L374.30 434.22 L374.80 434.25 L375.30 434.28 L375.80 434.30 L376.30 434.32 L376.80 434.33 L377.30 434.35 L377.80 434.37 L378.30 434.38 L378.80 434.40 L379.30 434.42 L379.80 434.44 L380.30 434.46 L380.80 434.48 L381.30 434.51 L381.80 434.53 L382.30 434.55 L382.80 434.58 L383.30 434.60 L383.80 434.62 L384.30 434.64 L384.80 434.67 L385.30 434.68 L385.80 434.70 L386.30 434.72 L386.80 434.73 L387.30 434.75 L387.80 434.76 L388.30 434.77 L388.80 434.77 L389.30 434.77 L389.80 434.77 L390.30 434.77 L390.80 434.76 L391.30 434.75 L391.80 434.73 L392.30 434.71 L392.80 434.69 L393.30 434.66 L393.80 434.63 L394.30 434.59 L394.80 434.55 L395.30 434.51 L395.80 434.46 L396.30 434.41 L396.80 434.36 L397.30 434.30 L397.80 434.23 L398.30 434.16 L398.80 434.09 L399.30 434.01 L399.80 433.93 L400.30 433.85 L400.80 433.76 L401.30 433.67 L401.80 433.58 L402.30 433.48 L402.80 433.39 L403.30 433.29 L403.80 433.20 L404.30 433.11 L404.80 433.02 L405.30 432.94 L405.80 432.86 L406.30 432.78 L406.80 432.71 L407.30 432.65 L407.80 432.60 L408.30 432.55 L408.80 432.51 L409.30 432.49 L409.80 432.47 L410.30 432.47 L410.80 432.47 L411.30 432.49 L411.80 432.51 L412.30 432.55 L412.80 432.59 L413.30 432.64 L413.80 432.71 L414.30 432.78 L414.80 432.85 L415.30 432.94 L415.80 433.03 L416.30 433.13 L416.80 433.24 L417.30 433.36 L417.80 433.48 L418.30 433.60 L418.80 433.74 L419.30 433.88 L419.80 434.02 L420.30 434.17 L420.80 434.33 L421.30 434.50 L421.80 434.68 L422.30 434.86 L422.80 435.05 L423.30 435.24 L423.80 435.45 L424.30 435.66 L424.80 435.88 L425.30 436.11 L425.80 436.34 L426.30 436.58 L426.80 436.83 L427.30 437.07 L427.80 437.32 L428.30 437.57 L428.80 437.82 L429.30 438.06 L429.80 438.30 L430.30 438.53 L430.80 438.76 L431.30 438.97 L431.80 439.18 L432.30 439.38 L432.80 439.57 L433.30 439.75 L433.80 439.93 L434.30 440.10 L434.80 440.26 L435.30 440.41 L435.80 440.56 L436.30 440.71 L436.80 440.85 L437.30 440.98 L437.80 441.11 L438.30 441.23 L438.80 441.35 L439.30 441.47 L439.80 441.58 L440.30 441.68 L440.80 441.78 L441.30 441.88 L441.80 441.97 L442.30 442.06 L442.80 442.14 L443.30 442.21 L443.80 442.28 L444.30 442.35 L444.80 442.40 L445.30 442.45 L445.80 442.50 L446.30 442.54 L446.80 442.57 L447.30 442.59 L447.80 442.61 L448.30 442.62 L448.80 442.62 L449.30 442.62 L449.80 442.61 L450.30 442.60 L450.80 442.58 L451.30 442.56 L451.80 442.54 L452.30 442.51 L452.80 442.49 L453.30 442.46 L453.80 442.42 L454.30 442.39 L454.80 442.36 L455.30 442.33 L455.80 442.30 L456.30 442.27 L456.80 442.25 L457.30 442.22 L457.80 442.20 L458.30 442.18 L458.80 442.16 L459.30 442.14 L459.80 442.12 L460.30 442.11 L460.80 442.10 L461.30 442.10 L461.80 442.10 L462.30 442.10 L462.80 442.10 L463.30 442.11 L463.80 442.13 L464.30 442.14 L464.80 442.16 L465.30 442.18 L465.80 442.21 L466.30 442.24 L466.80 442.27 L467.30 442.30 L467.80 442.33 L468.30 442.37 L468.80 442.41 L469.30 442.45 L469.80 442.49 L470.30 442.53 L470.80 442.58 L471.30 442.62 L471.80 442.66 L472.30 442.71 L472.80 442.75 L473.30 442.80 L473.80 442.84 L474.30 442.89 L474.80 442.93 L475.30 442.98 L475.80 443.02 L476.30 443.06 L476.80 443.10 L477.30 443.14 L477.80 443.18 L478.30 443.22 L478.80 443.26 L479.30 443.29 L479.80 443.33 L480.30 443.37 L480.80 443.40 L481.30 443.44 L481.80 443.47 L482.30 443.51 L482.80 443.54 L483.30 443.57 L483.80 443.61 L484.30 443.64 L484.80 443.67 L485.30 443.71 L485.80 443.74 L486.30 443.77 L486.80 443.80 L487.30 443.84 L487.80 443.87 L488.30 443.90 L488.80 443.93 L489.30 443.97 L489.80 444.00 L490.30 444.03 L490.80 444.06 L491.30 444.09 L491.80 444.11 L492.30 444.14 L492.80 444.16 L493.30 444.19 L493.80 444.21 L494.30 444.23 L494.80 444.24 L495.30 444.26 L495.80 444.27 L496.30 444.28 L496.80 444.29 L497.30 444.29 L497.80 444.29 L498.30 444.29 L498.80 444.28 L499.30 444.27 L499.80 444.26 L500.30 444.24 L500.80 444.22 L501.30 444.19 L501.80 444.16 L502.30 444.13 L502.80 444.09 L503.30 444.06 L503.80 444.01 L504.30 443.97 L504.80 443.92 L505.30 443.87 L505.80 443.82 L506.30 443.76 L506.80 443.71 L507.30 443.65 L507.80 443.59 L508.30 443.52 L508.80 443.46 L509.30 443.39 L509.80 443.33 L510.30 443.26 L510.80 443.19 L511.30 443.12 L511.80 443.05 L512.30 442.98 L512.80 442.91 L513.30 442.84 L513.80 442.76 L514.30 442.69 L514.80 442.62 L515.30 442.55 L515.80 442.47 L516.30 442.40 L516.80 442.33 L517.30 442.25 L517.80 442.18 L518.30 442.10 L518.80 442.03 L519.30 441.96 L519.80 441.88 L520.30 441.81 L520.80 441.73 L521.30 441.66 L521.80 441.58 L522.30 441.51 L522.80 441.43 L523.30 441.36 L523.80 441.28 L524.30 441.21 L524.80 441.13 L525.30 441.05 L525.80 440.98 L526.30 440.90 L526.80 440.83 L527.30 440.76 L527.80 440.68 L528.30 440.61 L528.80 440.54 L529.30 440.46 L529.80 440.39 L530.30 440.32 L530.80 440.25 L531.30 440.18 L531.80 440.12 L532.30 440.05 L532.80 439.98 L533.30 439.92 L533.80 439.86 L534.30 439.80 L534.80 439.74 L535.30 439.68 L535.80 439.62 L536.30 439.57 L536.80 439.52 L537.30 439.47 L537.80 439.42 L538.30 439.38 L538.80 439.33 L539.30 439.29 L539.80 439.25 L540.30 439.21 L540.80 439.18 L541.30 439.14 L541.80 439.11 L542.30 439.07 L542.80 439.04 L543.30 439.01 L543.80 438.98 L544.30 438.95 L544.80 438.92 L545.30 438.89 L545.80 438.86 L546.30 438.83 L546.80 438.80 L547.30 438.77 L547.80 438.74 L548.30 438.71 L548.80 438.68 L549.30 438.65 L549.80 438.61 L550.30 438.58 L550.80 438.55 L551.30 438.51 L551.80 438.47 L552.30 438.44 L552.80 438.40 L553.30 438.36 L553.80 438.32 L554.30 438.28 L554.80 438.24 L555.30 438.20 L555.80 438.16 L556.30 438.11 L556.80 438.07 L557.30 438.03 L557.80 437.98 L558.30 437.94 L558.80 437.90 L559.30 437.85 L559.80 437.81 L560.30 437.76 L560.80 437.72 L561.30 437.67 L561.80 437.63 L562.30 437.59 L562.80 437.54 L563.30 437.50 L563.80 437.45 L564.30 437.41 L564.80 437.37 L565.30 437.32 L565.80 437.28 L566.30 437.24 L566.80 437.20 L567.30 437.16 L567.80 437.12 L568.30 437.08 L568.80 437.04 L569.30 437.00 L569.80 436.96 L570.30 436.92 L570.80 436.88 L571.30 436.85 L571.80 436.81 L572.30 436.77 L572.80 436.74 L573.30 436.70 L573.80 436.67 L574.30 436.64 L574.80 436.60 L575.30 436.57 L575.80 436.54 L576.30 436.50 L576.80 436.47 L577.30 436.44 L577.80 436.41 L578.30 436.38 L578.80 436.35 L579.30 436.33 L579.80 436.30 L580.30 436.27 L580.80 436.24 L581.30 436.22 L581.80 436.19 L582.30 436.17 L582.80 436.14 L583.30 436.12 L583.80 436.10 L584.30 436.08 L584.80 436.05 L585.30 436.03 L585.80 436.01 L586.30 435.99 L586.80 435.98 L587.30 435.96 L587.80 435.94 L588.30 435.92 L588.80 435.91 L589.30 435.89 L589.80 435.88 L590.30 435.86 L590.80 435.85 L591.30 435.84 L591.80 435.83 L592.30 435.82 L592.80 435.81 L593.30 435.80 L593.80 435.79 L594.30 435.78 L594.80 435.77 L595.30 435.77 L595.80 435.76 L596.30 435.75 L596.80 435.75 L597.30 435.75 L597.80 435.74 L598.30 435.74 L598.80 435.74 L599.30 435.74 L599.80 435.74 L600.30 435.74 L600.80 435.74 L601.30 435.74 L601.80 435.74 L602.30 435.75 L602.80 435.75 L603.30 435.76 L603.80 435.76 L604.30 435.77 L604.80 435.78 L605.30 435.79 L605.80 435.80 L606.30 435.81 L606.80 435.82 L607.30 435.83 L607.80 435.84 L608.30 435.85 L608.80 435.87 L609.30 435.88 L609.80 435.90 L610.30 435.91 L610.80 435.93 L611.30 435.95 L611.80 435.96 L612.30 435.98 L612.80 436.00 L613.30 436.02 L613.80 436.05 L614.30 436.07 L614.80 436.09 L615.30 436.11 L615.80 436.14 L616.30 436.16 L616.80 436.19 L617.30 436.22 L617.80 436.25 L618.30 436.27 L618.80 436.30 L619.30 436.33 L619.80 436.36 L620.30 436.39 L620.80 436.42 L621.30 436.46 L621.80 436.49 L622.30 436.52 L622.80 436.55 L623.30 436.59 L623.80 436.62 L624.30 436.66 L624.80 436.69 L625.30 436.73 L625.80 436.76 L626.30 436.80 L626.80 436.83 L627.30 436.87 L627.80 436.91 L628.30 436.94 L628.80 436.98 L629.30 437.02 L629.80 437.05 L630.30 437.09 L630.80 437.13 L631.30 437.17 L631.80 437.20 L632.30 437.24 L632.80 437.28 L633.30 437.32 L633.80 437.35 L634.30 437.39 L634.80 437.43 L635.30 437.47 L635.80 437.50 L636.30 437.54 L636.80 437.58 L637.30 437.61 L637.80 437.65 L638.30 437.69 L638.80 437.72 L639.30 437.76 L639.80 437.80 L640.30 437.83 L640.80 437.87 L641.30 437.91 L641.80 437.95 L642.30 437.98 L642.80 438.02 L643.30 438.06 L643.80 438.09 L644.30 438.13 L644.80 438.17 L645.30 438.20 L645.80 438.24 L646.30 438.28 L646.80 438.32 L647.30 438.35 L647.80 438.39 L648.30 438.43 L648.80 438.47 L649.30 438.50 L649.80 438.54 L650.30 438.58 L650.80 438.62 L651.30 438.66 L651.80 438.70 L652.30 438.73 L652.80 438.77 L653.30 438.81 L653.80 438.85 L654.30 438.89 L654.80 438.93 L655.30 438.97 L655.80 439.01 L656.30 439.05 L656.80 439.09 L657.30 439.13 L657.80 439.17 L658.30 439.20 L658.80 439.24 L659.30 439.28 L659.80 439.32 L660.30 439.36 L660.80 439.40 L661.30 439.43 L661.80 439.47 L662.30 439.51 L662.80 439.55 L663.30 439.58 L663.80 439.62 L664.30 439.66 L664.80 439.69 L665.30 439.73 L665.80 439.76 L666.30 439.79 L666.80 439.83 L667.30 439.86 L667.80 439.89 L668.30 439.93 L668.80 439.96 L669.30 439.99 L669.80 440.02 L670.30 440.05 L670.80 440.07 L671.30 440.10 L671.80 440.13 L672.30 440.16 L672.80 440.18 L673.30 440.21 L673.80 440.23 L674.30 440.25 L674.80 440.28 L675.30 440.30 L675.80 440.32 L676.30 440.34 L676.80 440.36 L677.30 440.38 L677.80 440.40 L678.30 440.42 L678.80 440.44 L679.30 440.46 L679.80 440.48 L680.30 440.50 L680.80 440.51 L681.30 440.53 L681.80 440.55 L682.30 440.56 L682.80 440.58 L683.30 440.60 L683.80 440.61 L684.30 440.63 L684.80 440.64 L685.30 440.66 L685.80 440.67 L686.30 440.69 L686.80 440.70 L687.30 440.72 L687.80 440.73 L688.30 440.75 L688.80 440.76 L689.30 440.78 L689.80 440.79 L690.30 440.81 L690.80 440.82 L691.30 440.83 L691.80 440.85 L692.30 440.86 L692.80 440.87 L693.30 440.89 L693.80 440.90 L694.30 440.91 L694.80 440.92 L695.30 440.93 L695.80 440.94 L696.30 440.96 L696.80 440.97 L697.30 440.98 L697.80 440.99 L698.30 441.00 L698.80 441.01 L699.30 441.02 L699.80 441.03 L700.30 441.03 L700.80 441.04 L701.30 441.05 L701.80 441.06 L702.30 441.07 L702.80 441.07 L703.30 441.08 L703.80 441.09 L704.30 441.09 L704.80 441.10 L705.30 441.10 L705.80 441.11 L706.30 441.11 L706.80 441.12 L707.30 441.12 L707.80 441.12 L708.30 441.13 L708.80 441.13 L709.30 441.13 L709.80 441.13 L710.30 441.13 L710.80 441.13 L711.30 441.13 L711.80 441.13 L712.30 441.13 L712.80 441.13 L713.30 441.13 L713.80 441.12 L714.30 441.12 L714.80 441.12 L715.30 441.11 L715.80 441.11 L716.30 441.10 L716.80 441.10 L717.30 441.09 L717.80 441.08 L718.30 441.07 L718.80 441.07 L719.30 441.06 L719.80 441.05 L720.30 441.04 L720.80 441.03 L721.30 441.02 L721.80 441.00 L722.30 440.99 L722.80 440.98 L723.30 440.96 L723.80 440.95 L724.30 440.93 L724.80 440.92 L725.30 440.90 L725.80 440.88 L726.30 440.87 L726.80 440.85 L727.30 440.83 L727.80 440.81 L728.30 440.79 L728.80 440.77 L729.30 440.75 L729.80 440.72 L730.30 440.70 L730.80 440.68 L731.30 440.66 L731.80 440.63 L732.30 440.61 L732.80 440.58 L733.30 440.56 L733.80 440.53 L734.30 440.51 L734.80 440.48 L735.30 440.46 L735.80 440.43 L736.30 440.40 L736.80 440.37 L737.30 440.35 L737.80 440.32 L738.30 440.29 L738.80 440.26 L739.30 440.24 L739.80 440.21 L740.30 440.18 L740.80 440.15 L741.30 440.12 L741.80 440.09 L742.30 440.06 L742.80 440.03 L743.30 440.00 L743.80 439.97 L744.30 439.94 L744.80 439.91 L745.30 439.88 L745.80 439.86 L746.30 439.83 L746.80 439.80 L747.30 439.77 L747.80 439.74 L748.30 439.71 L748.80 439.68 L749.30 439.65 L749.80 439.62 L750.30 439.59 L750.80 439.56 L751.30 439.53 L751.80 439.50 L752.30 439.47 L752.80 439.44 L753.30 439.41 L753.80 439.38 L754.30 439.35 L754.80 439.32 L755.30 439.29 L755.80 439.26 L756.30 439.23 L756.80 439.20 L757.30 439.17 L757.80 439.15 L758.30 439.12 L758.80 439.09 L759.30 439.06 L759.80 439.03 L760.30 439.00 L760.80 438.98 L761.30 438.95 L761.80 438.92 L762.30 438.89 L762.80 438.86 L763.30 438.84 L763.80 438.81 L764.30 438.78 L764.80 438.76 L765.30 438.73 L765.80 438.70 L766.30 438.68 L766.80 438.65 L767.30 438.62 L767.80 438.60 L768.30 438.57 L768.80 438.54 L769.30 438.52 L769.80 438.49 L770.30 438.47 L770.80 438.44 L771.30 438.41 L771.80 438.39 L772.30 438.36 L772.80 438.33 L773.30 438.31 L773.80 438.28 L774.30 438.26 L774.80 438.23 L775.30 438.20 L775.80 438.18 L776.30 438.15 L776.80 438.12 L777.30 438.10 L777.80 438.07 L778.30 438.04 L778.80 438.02 L779.30 437.99 L779.80 437.96 L780.30 437.93 L780.80 437.91 L781.30 437.88 L781.80 437.85 L782.30 437.82 L782.80 437.79 L783.30 437.77 L783.80 437.74 L784.30 437.71 L784.80 437.68 L785.30 437.65 L785.80 437.62 L786.30 437.60 L786.80 437.57 L787.30 437.54 L787.80 437.51 L788.30 437.48 L788.80 437.46 L789.30 437.43 L789.80 437.40 L790.30 437.37 L790.80 437.35 L791.30 437.32 L791.80 437.29 L792.30 437.27 L792.80 437.24 L793.30 437.21 L793.80 437.19 L794.30 437.16 L794.80 437.14 L795.30 437.11 L795.80 437.09 L796.30 437.06 L796.80 437.04 L797.30 437.02 L797.80 436.99 L798.30 436.97 L798.80 436.95 L799.30 436.93 L799.80 436.90 L800.30 436.88 L800.80 436.86 L801.30 436.84 L801.80 436.82 L802.30 436.80 L802.80 436.78 L803.30 436.77 L803.80 436.75 L804.30 436.73 L804.80 436.71 L805.30 436.70 L805.80 436.68 L806.30 436.66 L806.80 436.65 L807.30 436.63 L807.80 436.62 L808.30 436.60 L808.80 436.59 L809.30 436.58 L809.80 436.56 L810.30 436.55 L810.80 436.54 L811.30 436.53 L811.80 436.52 L812.30 436.50 L812.80 436.49 L813.30 436.48 L813.80 436.47 L814.30 436.46 L814.80 436.45 L815.30 436.45 L815.80 436.44 L816.30 436.43 L816.80 436.42 L817.30 436.41 L817.80 436.41 L818.30 436.40 L818.80 436.39 L819.30 436.39 L819.80 436.38 L820.30 436.38 L820.80 436.37 L821.30 436.37 L821.80 436.36 L822.30 436.36 L822.80 436.36 L823.30 436.35 L823.80 436.35 L824.30 436.35 L824.80 436.35 L825.30 436.34 L825.80 436.34 L826.30 436.34 L826.80 436.34 L827.30 436.34 L827.80 436.34 L828.30 436.34 L828.80 436.34 L829.30 436.34 L829.80 436.34 L830.30 436.34 L830.80 436.34 L831.30 436.34 L831.80 436.34 L832.30 436.35 L832.80 436.35 L833.30 436.35 L833.80 436.35 L834.30 436.35 L834.80 436.36 L835.30 436.36 L835.80 436.36 L836.30 436.36 L836.80 436.37 L837.30 436.37 L837.80 436.37 L838.30 436.38 L838.80 436.38 L839.30 436.38 L839.80 436.38 L840.30 436.39 L840.80 436.39 L841.30 436.39 L841.80 436.40 L842.30 436.40 L842.80 436.40 L843.30 436.40 L843.80 436.41 L844.30 436.41 L844.80 436.41 L845.30 436.42 L845.80 436.42 L846.30 436.42 L846.80 436.42 L847.30 436.42 L847.80 436.43 L848.30 436.43 L848.80 436.43 L849.30 436.43 L849.80 436.44 L850.30 436.44 L850.80 436.44 L851.30 436.44 L851.80 436.44 L852.30 436.45 L852.80 436.45 L853.30 436.45 L853.80 436.45 L854.30 436.45 L854.80 436.46 L855.30 436.46 L855.80 436.46 L856.30 436.46 L856.80 436.46 L857.30 436.47 L857.80 436.47 L858.30 436.47 L858.80 436.47 L859.30 436.47 L859.80 436.47 L860.30 436.48 L860.80 436.48 L861.30 436.48 L861.80 436.48 L862.30 436.48 L862.80 436.48 L863.30 436.49 L863.80 436.49 L864.30 436.49 L864.80 436.49 L865.30 436.49 L865.80 436.49 L866.30 436.49 L866.80 436.50 L867.30 436.50 L867.80 436.50 L868.00 436.50" fill="none" stroke="#D95319" stroke-width="1.2" stroke-linejoin="round"/>
<g class="tk" text-anchor="middle">
<text transform="translate(125.1,530.8) scale(1,1.115)">0</text>
<text transform="translate(199.1,530.8) scale(1,1.115)">0.5</text>
<text transform="translate(273.3,530.8) scale(1,1.115)">1</text>
<text transform="translate(348.1,530.8) scale(1,1.115)">1.5</text>
<text transform="translate(421.8,530.8) scale(1,1.115)">2</text>
<text transform="translate(495.7,530.8) scale(1,1.115)">2.5</text>
<text transform="translate(570.7,530.8) scale(1,1.115)">3</text>
<text transform="translate(644.8,530.8) scale(1,1.115)">3.5</text>
<text transform="translate(719.4,530.8) scale(1,1.115)">4</text>
<text transform="translate(793.9,530.8) scale(1,1.115)">4.5</text>
<text transform="translate(867.9,530.8) scale(1,1.115)">5</text>
</g>
<g class="tk" text-anchor="end">
<text transform="translate(119.3,518.9) scale(1,1.115)">-0.5</text>
<text transform="translate(119.3,442.9) scale(1,1.115)">0</text>
<text transform="translate(119.3,366.9) scale(1,1.115)">0.5</text>
<text transform="translate(119.3,290.9) scale(1,1.115)">1</text>
<text transform="translate(119.3,214.9) scale(1,1.115)">1.5</text>
<text transform="translate(119.3,138.9) scale(1,1.115)">2</text>
<text transform="translate(119.3,62.9) scale(1,1.115)">2.5</text>
</g>
<text class="lb" text-anchor="middle" transform="translate(496.5,552) scale(1,1.08)">Time (seconds)</text>
<text class="lb" text-anchor="middle" transform="translate(69,287) rotate(-90)">Amplitude</text>
<text class="tt" text-anchor="middle" transform="translate(496.3,24) scale(1,1.09)">Response to impulse disturbance d</text>
<text class="st" text-anchor="middle" transform="translate(495.9,43) scale(1,1.09)" xml:space="preserve" style="white-space:pre">From: In(1)  To: y</text>
<rect x="681.5" y="68.5" width="175" height="32" fill="#fff" stroke="#262626" stroke-width="1"/>
<line x1="684.5" y1="77.5" x2="724.5" y2="77.5" stroke="#0072BD" stroke-width="1.1"/>
<line x1="684.5" y1="91.5" x2="724.5" y2="91.5" stroke="#D95319" stroke-width="1.1"/>
<text class="lg" x="728.2" y="81">LQG optimal</text>
<text class="lg" x="728.2" y="96">2nd-order passive LQG</text>
</svg>
</body>
</html>
